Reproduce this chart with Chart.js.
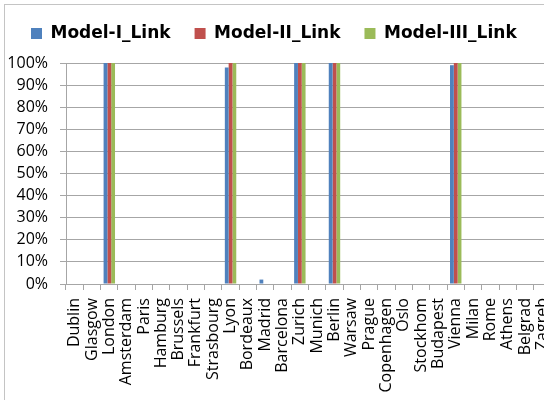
<!DOCTYPE html>
<html>
<head>
<meta charset="utf-8">
<script src="https://cdn.jsdelivr.net/npm/chart.js@4"></script>
<style>
  html, body { margin: 0; padding: 0; background: #fff; overflow: hidden; width: 544px; height: 400px; }
  #wrap { position: absolute; left: 0; top: 0; width: 570px; height: 430px; }
</style>
</head>
<body>
<div id="wrap"><canvas id="c" width="570" height="430"></canvas></div>
<script>
const categories = ["Dublin","Glasgow","London","Amsterdam","Paris","Hamburg","Brussels","Frankfurt","Strasbourg","Lyon","Bordeaux","Madrid","Barcelona","Zurich","Munich","Berlin","Warsaw","Prague","Copenhagen","Oslo","Stockhom","Budapest","Vienna","Milan","Rome","Athens","Belgrad","Zagreb"];
const seriesNames = ["Model-I_Link","Model-II_Link","Model-III_Link"];
const modelI   = [0,0,100,0,0,0,0,0,0,98,0,2,0,100,0,100,0,0,0,0,0,0,99,0,0,0,0,0];
const modelII  = [0,0,100,0,0,0,0,0,0,100,0,0,0,100,0,100,0,0,0,0,0,0,100,0,0,0,0,0];
const modelIII = [0,0,100,0,0,0,0,0,0,100,0,0,0,100,0,100,0,0,0,0,0,0,100,0,0,0,0,0];
const yTicks = [0,10,20,30,40,50,60,70,80,90,100];
const colors = ["#4F81BD","#C0504D","#9BBB59"];

const gridColor = "#a6a6a6";

const frame = {
  id: 'frame',
  beforeDraw(chart) {
    const ctx = chart.ctx;
    ctx.save();
    ctx.fillStyle = '#fff';
    ctx.fillRect(0, 0, chart.width, chart.height);
    ctx.strokeStyle = '#c4c4c4';
    ctx.lineWidth = 1;
    ctx.strokeRect(4.5, 4.5, 800, 800);
    ctx.restore();
  }
};
const legendHeight = {
  id: 'legendHeight',
  beforeInit(chart) {
    const orig = chart.legend.fit;
    chart.legend.fit = function() { orig.call(this); this.height = 62; };
  }
};

new Chart(document.getElementById('c'), {
  type: 'bar',
  data: {
    labels: categories,
    datasets: [
      { label: seriesNames[0], data: modelI, backgroundColor: colors[0] },
      { label: seriesNames[1], data: modelII, backgroundColor: colors[1] },
      { label: seriesNames[2], data: modelIII, backgroundColor: colors[2] }
    ]
  },
  options: {
    responsive: false,
    animation: false,
    devicePixelRatio: 1,
    layout: { padding: { left: 7, top: 1, right: 19, bottom: 0 } },
    datasets: { bar: { categoryPercentage: 0.66, barPercentage: 1.0, borderWidth: 0 } },
    plugins: {
      tooltip: { enabled: false },
      legend: {
        position: 'top',
        align: 'start',
        labels: {
          boxWidth: 11, boxHeight: 11, padding: 24, color: '#000',
          font: { family: 'DejaVu Sans', weight: 'bold', size: 17 }
        }
      }
    },
    scales: {
      x: {
        offset: true,
        grid: { display: true, drawOnChartArea: false, drawTicks: true, tickLength: 6, color: gridColor, offset: true },
        border: { display: true, color: gridColor },
        ticks: {
          autoSkip: false, maxRotation: 90, minRotation: 90, padding: 8, color: '#000',
          font: { family: 'Open Sans', size: 16 }
        },
        afterFit(scale) { scale.height = 430 - 284; }
      },
      y: {
        min: 0, max: 100,
        afterBuildTicks(scale) { scale.ticks = yTicks.map(v => ({ value: v })); },
        grid: { color: gridColor, tickLength: 6, drawTicks: true },
        border: { display: true, color: gridColor },
        ticks: {
          autoSkip: false, padding: 12, color: '#000',
          font: { family: 'Open Sans', size: 16 },
          callback: v => v + '%'
        },
        afterFit(scale) { scale.width = 66 - 7; }
      }
    }
  },
  plugins: [frame, legendHeight]
});
</script>
</body>
</html>
